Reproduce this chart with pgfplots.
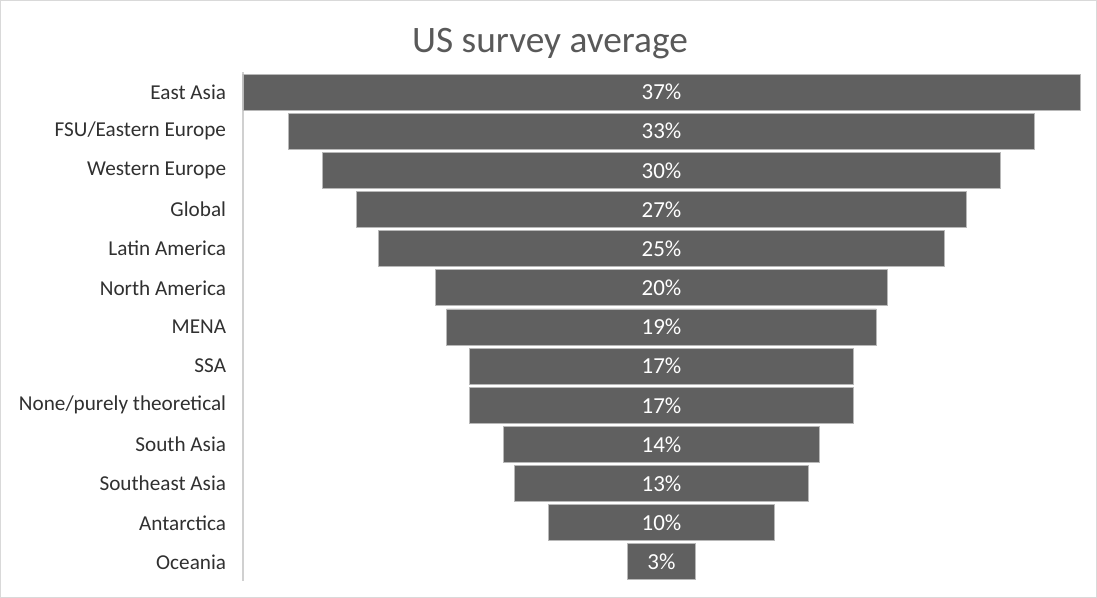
\documentclass[border=0pt]{standalone}
\usepackage{pgfplots}
\pgfplotsset{compat=1.18}
\usepackage{pgfplotstable}
\usepackage{fontspec}
\setmainfont{Carlito}
\definecolor{barc}{HTML}{606060}
\definecolor{bord}{HTML}{B8B8B8}
\definecolor{axc}{HTML}{D0D0D0}
\definecolor{framec}{HTML}{D9D9D9}
\definecolor{titlec}{HTML}{595959}
\definecolor{labc}{HTML}{303030}
\pgfplotstableread{
idx off v c
0 0 37 18.5
1 2 33 18.5
2 3.5 30 18.5
3 5 27 18.5
4 6 25 18.5
5 8.5 20 18.5
6 9 19 18.5
7 10 17 18.5
8 10 17 18.5
9 11.5 14 18.5
10 12 13 18.5
11 13.5 10 18.5
12 17 3 18.5
}\data
\begin{document}
\begin{tikzpicture}
\useasboundingbox (-182.25pt,-12.375pt) rectangle (640.5pt,436.125pt);
\draw[framec, line width=0.75pt] (-181.875pt,-12pt) rectangle (640.125pt,435.75pt);
\node[text=titlec, font=\fontsize{28pt}{33pt}\selectfont] at (230.25pt,403.5pt) {US survey average};
\begin{axis}[
  scale only axis, width=627.75pt, height=381.75pt,
  xbar stacked, bar width=27pt,
  xmin=0, xmax=37, ymin=-0.5, ymax=12.5, y dir=reverse,
  hide x axis,
  axis y line*=left,
  y axis line style={draw=axc, line width=0.9pt},
  ytick={0,...,12},
  yticklabels={East Asia,FSU/Eastern Europe,Western Europe,Global,Latin America,North America,MENA,SSA,None/purely theoretical,South Asia,Southeast Asia,Antarctica,Oceania},
  major tick length=0pt,
  tick style={draw=none},
  yticklabel style={font=\fontsize{15.9pt}{19pt}\selectfont, text=labc, inner sep=0pt, xshift=-12.5pt},
  clip=false,
]
\addplot[draw=none, fill=none] table[x=off, y=idx]{\data};
\addplot[fill=barc, draw=bord, line width=0.7pt] table[x=v, y=idx]{\data};
\end{axis}
\begin{axis}[
  scale only axis, width=627.75pt, height=381.75pt,
  xmin=0, xmax=37, ymin=-0.5, ymax=12.5, y dir=reverse,
  hide axis, clip=false,
  /pgf/number format/assume math mode=true,
]
\addplot[only marks, mark=none, point meta=explicit,
  nodes near coords={\pgfmathprintnumber{\pgfplotspointmeta}\%},
  nodes near coords style={anchor=center, text=white, font=\fontsize{17.2pt}{20pt}\selectfont}]
  table[x=c, y=idx, meta=v]{\data};
\end{axis}
\end{tikzpicture}
\end{document}
